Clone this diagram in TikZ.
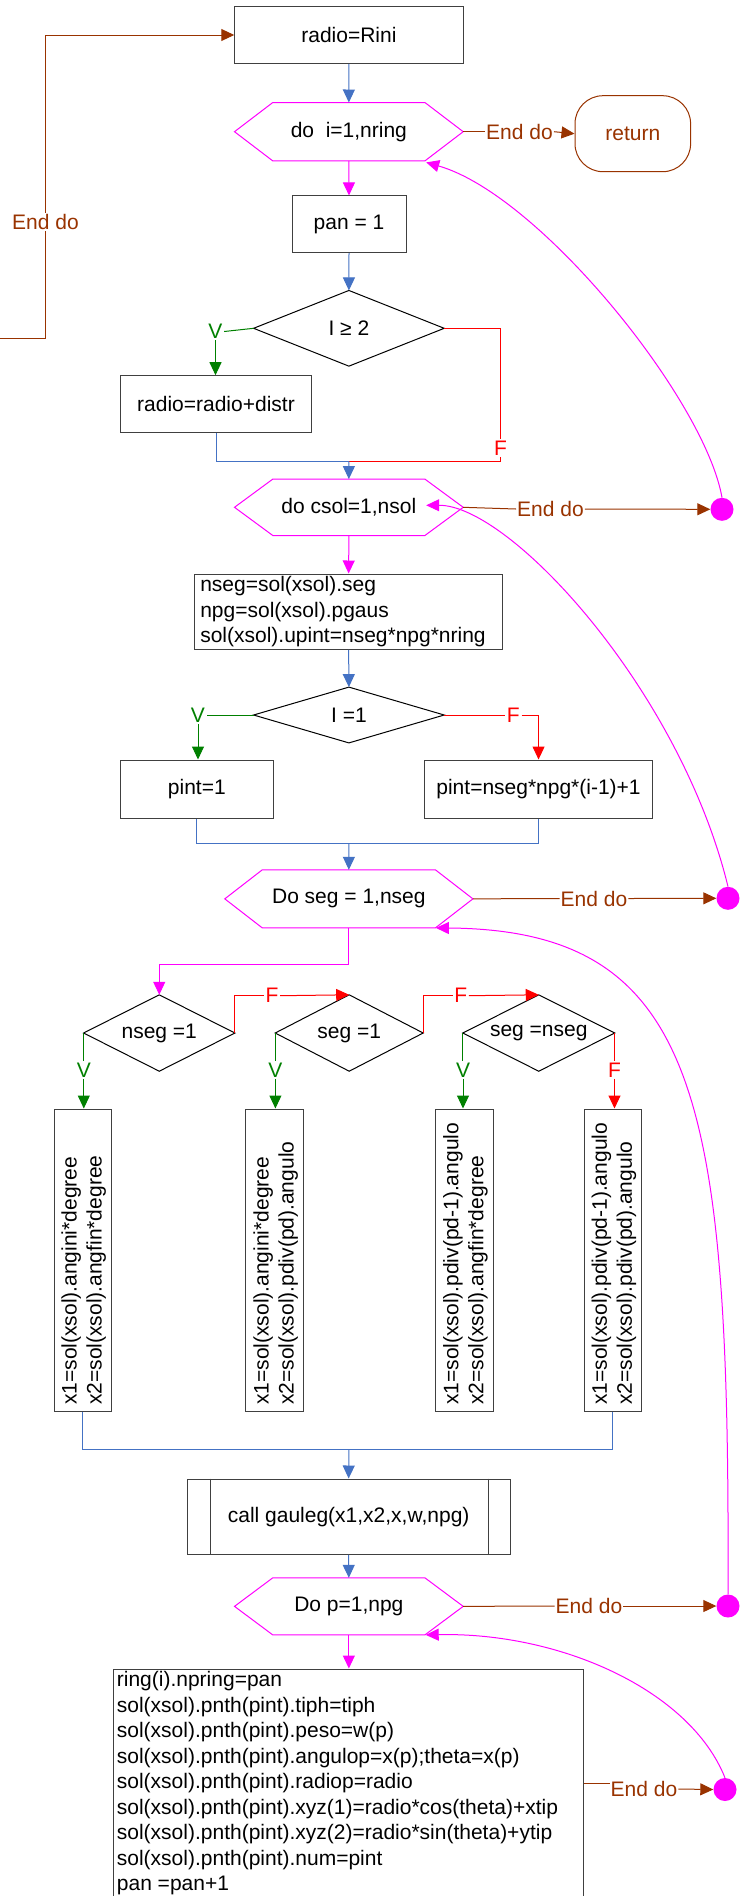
\documentclass[tikz,border=0pt]{standalone}
\usepackage{fontspec}
\setmainfont{Liberation Sans}
\usetikzlibrary{arrows.meta,calc}
\definecolor{cblue}{RGB}{68,114,196}
\definecolor{cmag}{RGB}{255,0,255}
\definecolor{cbrown}{RGB}{153,51,0}
\definecolor{cgreen}{RGB}{0,128,0}
\definecolor{cred}{RGB}{255,0,0}
\definecolor{cbox}{RGB}{64,64,64}
\tikzset{
  base/.style={font=\fontsize{21pt}{25.6pt}\selectfont},
  box/.style={base, draw=cbox, line width=1pt, rectangle, inner sep=0pt, align=center},
  hexn/.style={base, rectangle, inner sep=0pt},
  dian/.style={base, rectangle, inner sep=0pt},
  hexline/.style={draw=cmag, line width=1pt},
  dialine/.style={draw=black, line width=1pt},
  retbox/.style={base, draw=cbrown, text=cbrown, line width=1pt, rectangle, rounded corners=28pt, inner sep=0pt},
  endlab/.style={base, text=cbrown, inner sep=1pt},
  vlab/.style={base, text=cgreen, inner sep=1.5pt},
  flab/.style={base, text=cred, inner sep=1.5pt},
  rot/.style={base, rotate=90, inner sep=0pt},
  magdot/.style={circle, fill=cmag, minimum size=23pt, inner sep=0pt},
  tipa/.style={-{Triangle[length=13pt,width=12pt]}},
  bline/.style={draw=cblue, line width=1pt},
  barr/.style={bline, tipa},
  mline/.style={draw=cmag, line width=1pt},
  marr/.style={mline, tipa},
  gline/.style={draw=cgreen, line width=1pt},
  garr/.style={gline, tipa},
  rline/.style={draw=cred, line width=1pt},
  rarr/.style={rline, tipa},
  brline/.style={draw=cbrown, line width=1pt},
  brarr/.style={brline, tipa},
}
\newcommand{\drawhex}[2]{\draw[hexline] (#1.west) -- ([xshift=#2]#1.north west) -- ([xshift=-#2]#1.north east) -- (#1.east) -- ([xshift=-#2]#1.south east) -- ([xshift=#2]#1.south west) -- cycle;}
\newcommand{\drawdia}[1]{\draw[dialine] (#1.north) -- (#1.east) -- (#1.south) -- (#1.west) -- cycle;}
\begin{document}
\begin{tikzpicture}[x=1pt,y=-1pt]
\clip (0,0) rectangle (747,1896);
\fill[white] (0,0) rectangle (747,1896);
% ---------- nodes ----------
\node[box, minimum width=228.3pt, minimum height=56.6pt] (b0) at (348.9,35) {radio=Rini};
\node[hexn, minimum width=228.3pt, minimum height=58pt] (h1) at (348.85,131.7) {do\ \ i=1,nring};
\node[retbox, minimum width=115.6pt, minimum height=76pt] (ret) at (632.8,133.7) {return};
\node[endlab] (e1) at (519.5,131.7) {End do};
\node[endlab, fill=white] (eL) at (45.5,221.7) {End do};
\coordinate (L0) at (0,338);
\node[box, minimum width=114pt, minimum height=56.7pt] (b1) at (349,224.3) {pan = 1};
\node[dian, minimum width=190.2pt, minimum height=75.3pt] (d1) at (348.9,328.3) {I ≥ 2};
\node[vlab] (v1) at (215.5,331.5) {V};
\node[box, minimum width=190.6pt, minimum height=56.6pt] (b2) at (216,404) {radio=radio+distr};
\node[flab] (f1) at (500.5,448) {F};
\coordinate (j1) at (348.9,461);
\node[hexn, minimum width=228.3pt, minimum height=56pt] (h2) at (348.85,507.3) {do csol=1,nsol};
\node[endlab] (e2) at (550.5,509) {End do};
\node[magdot] (dot1) at (722,509.3) {};
\node[box, text width=296.7pt, inner xsep=5.8pt, minimum height=75.3pt, align=left] (b3) at (348.65,611.65) {nseg=sol(xsol).seg\\npg=sol(xsol).pgaus\\sol(xsol).upint=nseg*npg*nring};
\node[dian, minimum width=190.2pt, minimum height=55.4pt] (d2) at (348.9,715) {I =1};
\node[vlab] (v2) at (198,715) {V};
\node[flab] (f2) at (513.4,715) {F};
\node[box, minimum width=152.3pt, minimum height=58.3pt] (b4) at (196.85,789.15) {pint=1};
\node[box, minimum width=227.5pt, minimum height=58.3pt] (b5) at (538.55,789.15) {pint=nseg*npg*(i-1)+1};
\coordinate (j2) at (348.9,843.3);
\node[hexn, minimum width=247.7pt, minimum height=57.7pt] (h3) at (348.85,898.85) {Do seg = 1,nseg};
\node[endlab] (e3) at (594,898.5) {End do};
\node[magdot] (dot2) at (728,898.3) {};
\coordinate (k2) at (159.25,964);
\node[dian, minimum width=150.9pt, minimum height=76pt] (d3) at (159.25,1033) {nseg =1};
\node[dian, minimum width=147.6pt, minimum height=76pt] (d4) at (349.2,1033) {seg =1};
\node[dian, minimum width=151.5pt, minimum height=76pt] (d5) at (538.75,1033) {seg =nseg};
\node[flab] (f3) at (272,995.7) {F};
\node[flab] (f4) at (460.7,995.7) {F};
\node[vlab] (v3) at (83.8,1070) {V};
\node[vlab] (v4) at (275.4,1070) {V};
\node[vlab] (v5) at (463,1070) {V};
\node[flab] (f5) at (614.5,1070) {F};
\node[box, minimum width=57.6pt, minimum height=302pt] (r1) at (82.8,1260) {};
\node[box, minimum width=57.6pt, minimum height=302pt] (r2) at (274.5,1260) {};
\node[box, minimum width=57.6pt, minimum height=302pt] (r3) at (464.55,1260) {};
\node[box, minimum width=57.6pt, minimum height=302pt] (r4) at (612.8,1260) {};
\node[rot, anchor=base west] (r1a) at (76.5,1405) {x1=sol(xsol).angini*degree};
\node[rot, anchor=base west] (r1b) at (101.5,1405) {x2=sol(xsol).angfin*degree};
\node[rot, anchor=base west] (r2a) at (268.5,1405) {x1=sol(xsol).angini*degree};
\node[rot, anchor=base west] (r2b) at (293.5,1405) {x2=sol(xsol).pdiv(pd).angulo};
\node[rot, anchor=base west] (r3a) at (458.3,1405) {x1=sol(xsol).pdiv(pd-1).angulo};
\node[rot, anchor=base west] (r3b) at (483.3,1405) {x2=sol(xsol).angfin*degree};
\node[rot, anchor=base west] (r4a) at (606.8,1405) {x1=sol(xsol).pdiv(pd-1).angulo};
\node[rot, anchor=base west] (r4b) at (631.8,1405) {x2=sol(xsol).pdiv(pd).angulo};
\coordinate (j3) at (348.9,1449.3);
\node[box, minimum width=322.7pt, minimum height=75.3pt] (call) at (348.65,1516.65) {call gauleg(x1,x2,x,w,npg)};
\node[hexn, minimum width=228.3pt, minimum height=56.7pt] (h4) at (348.85,1606.35) {Do p=1,npg};
\node[endlab] (e4) at (589,1606) {End do};
\node[magdot] (dot3) at (728,1606) {};
\node[box, minimum width=470pt, minimum height=241pt] (big) at (348,1789.5) {};
\node[anchor=north west, inner sep=0pt, align=left, font=\fontsize{21pt}{25.5pt}\selectfont] (bigtxt) at (116.7,1668.85) {\strut ring(i).npring=pan\\
sol(xsol).pnth(pint).tiph=tiph\\
sol(xsol).pnth(pint).peso=w(p)\\
sol(xsol).pnth(pint).angulop=x(p);theta=x(p)\\
sol(xsol).pnth(pint).radiop=radio\\
sol(xsol).pnth(pint).xyz(1)=radio*cos(theta)+xtip\\
sol(xsol).pnth(pint).xyz(2)=radio*sin(theta)+ytip\\
sol(xsol).pnth(pint).num=pint\\
pan =pan+1};
\node[endlab] (e5) at (644,1789) {End do};
\node[magdot] (dot4) at (725,1789.5) {};
% ---------- outlines ----------
\drawhex{h1}{38.3pt}
\drawhex{h2}{38.3pt}
\drawhex{h3}{37.5pt}
\drawhex{h4}{38.3pt}
\drawdia{d1}
\drawdia{d2}
\drawdia{d3}
\drawdia{d4}
\drawdia{d5}
\draw[cbox, line width=1pt] ([xshift=23.4pt]call.north west) -- ([xshift=23.4pt]call.south west);
\draw[cbox, line width=1pt] ([xshift=-22.5pt]call.north east) -- ([xshift=-22.5pt]call.south east);
\coordinate (t1) at ([xshift=-37pt,yshift=-1.5pt]h1.south east);
\coordinate (t2) at ([xshift=-37pt,yshift=2pt]h2.east);
\coordinate (t3) at ([xshift=-37pt,yshift=0pt]h3.south east);
\coordinate (t4) at ([xshift=-37.5pt,yshift=0pt]h4.south east);
\coordinate (bq) at ([yshift=6.5pt]big.east);
% ---------- connectors ----------
\draw[brline] (L0) -| (eL.south);
\draw[brarr] (eL.north) |- (b0.west);
\draw[barr] (b0.south) -- (h1.north);
\draw[brline] (h1.east) -- (e1.west);
\draw[brarr] (e1.east) -- (ret.west);
\draw[marr] (h1.south) -- (b1.north);
\draw[barr] (b1.south) -- (d1.north);
\draw[gline] (d1.west) -- (v1.east);
\draw[garr] (v1.south) -- (v1.south |- b2.north);
\draw[rline] (d1.east) -| (f1.north);
\draw[rline] (f1.south) |- (j1);
\draw[bline] (b2.south) |- (j1);
\draw[barr] (j1) -- (h2.north);
\draw[brline] (h2.east) -- (e2.west);
\draw[brarr] (e2.east) -- (dot1.west);
\draw[marr] (dot1.north) .. controls (705,400) and (540,195) .. (t1);
\draw[marr] (h2.south) -- (b3.north);
\draw[barr] (b3.south) -- (d2.north);
\draw[gline] (d2.west) -- (v2.east);
\draw[garr] (v2.south) -- (v2.south |- b4.north);
\draw[rline] (d2.east) -- (f2.west);
\draw[rarr] (f2.east) -| (b5.north);
\draw[bline] (b4.south) |- (j2);
\draw[bline] (b5.south) |- (j2);
\draw[barr] (j2) -- (h3.north);
\draw[brline] (h3.east) -- (e3.west);
\draw[brarr] (e3.east) -- (dot2.west);
\draw[marr] (dot2.north) .. controls (680,690) and (510,505) .. (t2);
\draw[marr] (h3.south) |- (k2) -- (d3.north);
\draw[rline] (d3.east) |- (f3.west);
\draw[rarr] (f3.east) -- (d4.north);
\draw[rline] (d4.east) |- (f4.west);
\draw[rarr] (f4.east) -- (d5.north);
\draw[gline] (d3.west) -- (d3.west |- v3.north);
\draw[gline] (d4.west) -- (d4.west |- v4.north);
\draw[gline] (d5.west) -- (d5.west |- v5.north);
\draw[rline] (d5.east) -- (d5.east |- f5.north);
\draw[garr] (v3.south) -- (v3.south |- r1.north);
\draw[garr] (v4.south) -- (v4.south |- r2.north);
\draw[garr] (v5.south) -- (v5.south |- r3.north);
\draw[rarr] (f5.south) -- (f5.south |- r4.north);
\draw[bline] (r1.south) |- (j3);
\draw[bline] (r4.south) |- (j3);
\draw[barr] (j3) -- (call.north);
\draw[barr] (call.south) -- (h4.north);
\draw[brline] (h4.east) -- (e4.west);
\draw[brarr] (e4.east) -- (dot3.west);
\draw[marr] (dot3.north) .. controls (730,1100) and (700,930) .. (t3);
\draw[marr] (h4.south) -- (h4.south |- big.north);
\draw[brline] (bq) -- (bq -| e5.west);
\draw[brarr] (e5.east) -- (dot4.west);
\draw[marr] (dot4.north) .. controls (690,1690) and (560,1632) .. (t4);
\end{tikzpicture}
\end{document}
